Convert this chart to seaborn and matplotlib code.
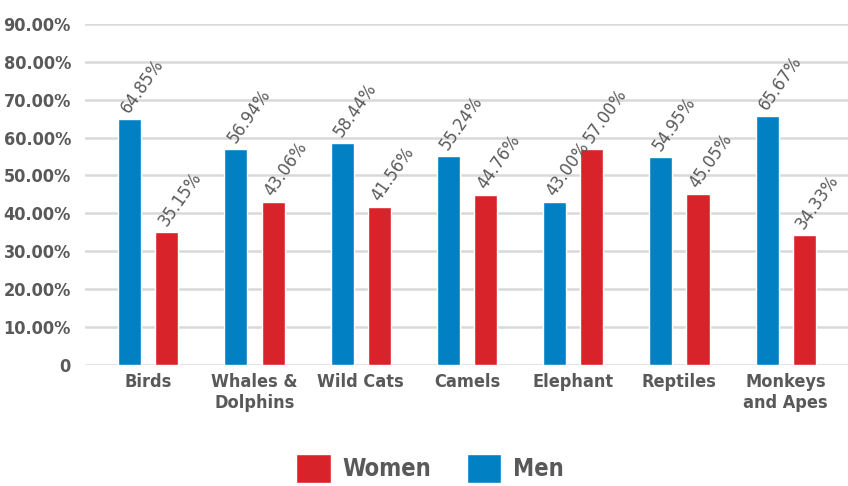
import matplotlib
matplotlib.use("Agg")
import matplotlib.pyplot as plt
import seaborn as sns
import pandas as pd
from matplotlib.patches import Patch

categories = ["Birds", "Whales &\nDolphins", "Wild Cats", "Camels", "Elephant", "Reptiles", "Monkeys\nand Apes"]
men = [64.85, 56.94, 58.44, 55.24, 43.00, 54.95, 65.67]
women = [35.15, 43.06, 41.56, 44.76, 57.00, 45.05, 34.33]
yticks = [0, 10, 20, 30, 40, 50, 60, 70, 80, 90]
ytick_labels = ["0"] + [f"{v:.2f}%" for v in yticks[1:]]

sns.set_theme(style="white")
plt.rcParams['font.family'] = ['DejaVu Sans']
plt.rcParams['font.stretch'] = 'condensed'

GRAY = "#595959"
BLUE = "#0180C3"
RED = "#D9232B"

df = pd.DataFrame({
    "cat": categories * 2,
    "val": men + women,
    "sex": ["Men"] * len(men) + ["Women"] * len(women),
})

fig = plt.figure(figsize=(8.48, 4.86), dpi=100)
ax = fig.add_axes([0.100, 0.249, 0.900, 0.702])
sns.barplot(data=df, x="cat", y="val", hue="sex", hue_order=["Men", "Women"],
            palette={"Men": BLUE, "Women": RED}, width=0.7, gap=0.38, saturation=1,
            ax=ax, legend=False, zorder=3)

ax.set_ylim(0, 90)
ax.set_xlim(-0.598, 6.587)
ax.set_yticks(yticks)
ax.set_yticklabels(ytick_labels, fontsize=13, fontweight="bold", color=GRAY)
ax.tick_params(axis="x", labelsize=13, colors=GRAY, length=0, pad=6)
ax.tick_params(axis="y", length=0, pad=10)
for t in ax.get_xticklabels():
    t.set_fontweight("bold")
    t.set_color(GRAY)
ax.set_xlabel("")
ax.set_ylabel("")
ax.grid(axis="y", color="#D9D9D9", linewidth=1.8, zorder=0)
ax.set_axisbelow(True)
for s in ax.spines.values():
    s.set_visible(False)

for cont in ax.containers:
    for bar in cont:
        h = bar.get_height()
        x = bar.get_x() + bar.get_width() / 2
        ax.annotate(f"{h:.2f}%", (x, h), xytext=(2, 2), textcoords="offset points",
                    rotation=55, rotation_mode="anchor", ha="left", va="bottom",
                    fontsize=13, color=GRAY, clip_on=False)

handles = [Patch(facecolor=RED, label="Women"), Patch(facecolor=BLUE, label="Men")]
fig.legend(handles=handles, loc="center", bbox_to_anchor=(0.507, 0.036), ncol=2,
           frameon=False, prop={"size": 17, "weight": "bold"}, labelcolor=GRAY,
           handlelength=1.45, handleheight=1.45, columnspacing=1.5, handletextpad=0.5)

fig.savefig("out.png", dpi=100)
